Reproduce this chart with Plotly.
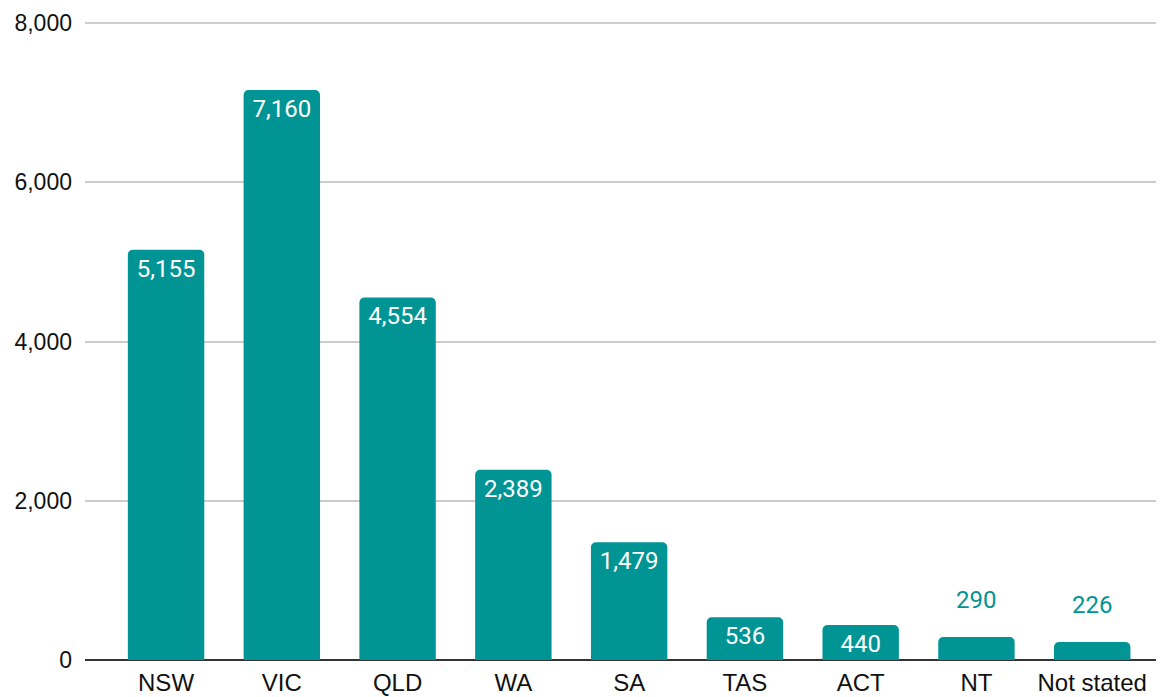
import plotly.graph_objects as go

categories = ["NSW", "VIC", "QLD", "WA", "SA", "TAS", "ACT", "NT", "Not stated"]
values = [5155, 7160, 4554, 2389, 1479, 536, 440, 290, 226]
y_ticks = [0, 2000, 4000, 6000, 8000]

TEAL = "#009494"
LABEL_FONT = "Roboto"
AXIS_FONT = "Liberation Sans, Arial, sans-serif"
inside = [v >= 400 for v in values]

fig = go.Figure(go.Bar(
    x=categories, y=values,
    text=[f"{v:,}" if i else "" for v, i in zip(values, inside)],
    textposition="inside",
    insidetextanchor="end",
    textangle=0,
    textfont=dict(family=LABEL_FONT, size=24, color="white"),
    marker=dict(color=TEAL, line=dict(width=0), cornerradius=5),
    cliponaxis=False,
))

for c, v, i in zip(categories, values, inside):
    if not i:
        fig.add_annotation(x=c, y=v, text=f"{v:,}", showarrow=False,
                           yanchor="bottom", yshift=21,
                           font=dict(family=LABEL_FONT, size=24, color=TEAL))

fig.update_layout(
    width=1156, height=689,
    margin=dict(l=77, r=0, t=12, b=37),
    paper_bgcolor="white", plot_bgcolor="white",
    bargap=0.34,
    showlegend=False,
    font=dict(family=AXIS_FONT, size=24, color="#111111"),
    uniformtext=dict(mode=False),
)
fig.update_xaxes(range=[-0.70, 8.62], showgrid=False, ticks="", showline=False,
                 ticklabelstandoff=6,
                 tickfont=dict(family=AXIS_FONT, size=24, color="#111111"))
fig.update_yaxes(range=[0, 8040], tickvals=y_ticks, tickformat=",",
                 gridcolor="#cccccc", gridwidth=1.5,
                 zeroline=True, zerolinecolor="#333333", zerolinewidth=2,
                 ticks="", ticklabelstandoff=12,
                 tickfont=dict(family=AXIS_FONT, size=23, color="#111111"))

fig.write_html("out.html")
